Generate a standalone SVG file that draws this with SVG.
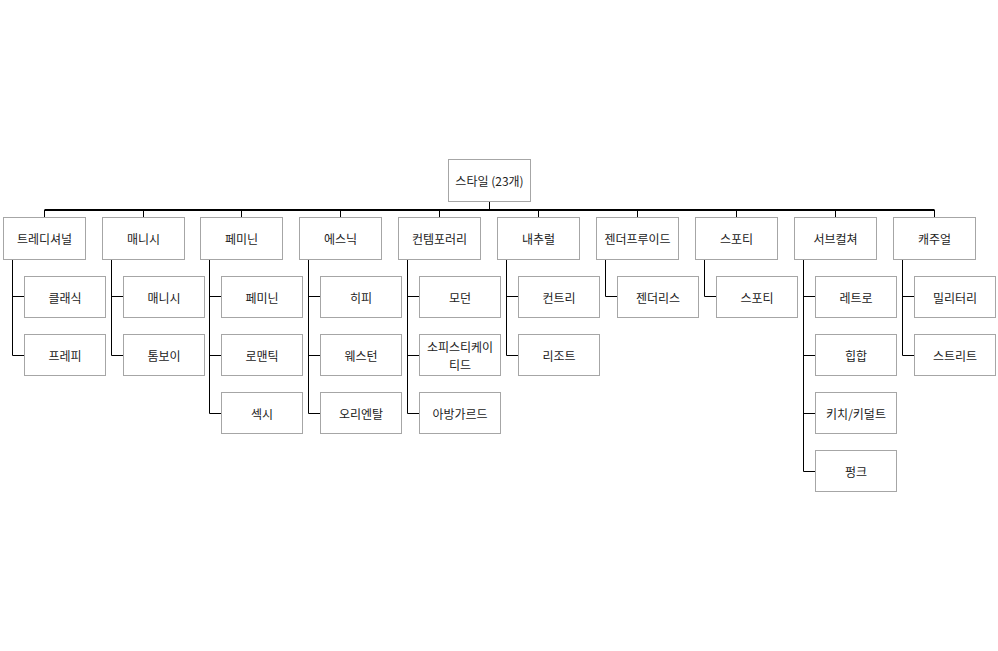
<svg xmlns="http://www.w3.org/2000/svg" width="998" height="651" viewBox="0 0 998 651">
<style>
.b{fill:#fff;stroke:#a6a6a6;stroke-width:1}
.t{font-family:"Noto Sans CJK KR","Noto Sans",sans-serif;font-size:12px;fill:#222;text-anchor:middle;dominant-baseline:central}
.c{fill:none;stroke:#000;stroke-width:1}
.bus{fill:none;stroke:#000;stroke-width:2}
</style>
<rect width="998" height="651" fill="#fff"/>
<g id="connectors">
<path class="bus" d="M44.5 210H934.5"/>
<path class="c" d="M489.5 201.5V210M44.5 210V217.5M143.5 210V217.5M241.5 210V217.5M340.5 210V217.5M439.5 210V217.5M538.5 210V217.5M637.5 210V217.5M736.5 210V217.5M835.5 210V217.5M934.5 210V217.5"/>
<path class="c" d="M12.5 259.5V355.5M12.5 296.5H24M12.5 355.5H24"/>
<path class="c" d="M111.5 259.5V355.5M111.5 296.5H123M111.5 355.5H123"/>
<path class="c" d="M209.5 259.5V413.5M209.5 296.5H221M209.5 355.5H221M209.5 413.5H221"/>
<path class="c" d="M308.5 259.5V413.5M308.5 296.5H320M308.5 355.5H320M308.5 413.5H320"/>
<path class="c" d="M407.5 259.5V413.5M407.5 296.5H419M407.5 355.5H419M407.5 413.5H419"/>
<path class="c" d="M506.5 259.5V355.5M506.5 296.5H518M506.5 355.5H518"/>
<path class="c" d="M605.5 259.5V296.5H617"/>
<path class="c" d="M704.5 259.5V296.5H716"/>
<path class="c" d="M803.5 259.5V471.5M803.5 296.5H815M803.5 355.5H815M803.5 413.5H815M803.5 471.5H815"/>
<path class="c" d="M902.5 259.5V355.5M902.5 296.5H914M902.5 355.5H914"/>
</g>
<g id="root"><rect class="b" x="448.5" y="159.5" width="82" height="42"/><text class="t" x="489.5" y="180.5">스타일 (23개)</text></g>
<g id="n1"><rect class="b" x="3.5" y="217.5" width="82" height="42"/><text class="t" x="44.5" y="238.5">트레디셔널</text></g>
<g id="n1a"><rect class="b" x="24.5" y="276.5" width="81" height="41"/><text class="t" x="65" y="297">클래식</text></g>
<g id="n1b"><rect class="b" x="24.5" y="334.5" width="81" height="41"/><text class="t" x="65" y="355">프레피</text></g>
<g id="n2"><rect class="b" x="102.5" y="217.5" width="82" height="42"/><text class="t" x="143.5" y="238.5">매니시</text></g>
<g id="n2a"><rect class="b" x="123.5" y="276.5" width="81" height="41"/><text class="t" x="164" y="297">매니시</text></g>
<g id="n2b"><rect class="b" x="123.5" y="334.5" width="81" height="41"/><text class="t" x="164" y="355">톰보이</text></g>
<g id="n3"><rect class="b" x="200.5" y="217.5" width="82" height="42"/><text class="t" x="241.5" y="238.5">페미닌</text></g>
<g id="n3a"><rect class="b" x="221.5" y="276.5" width="81" height="41"/><text class="t" x="262" y="297">페미닌</text></g>
<g id="n3b"><rect class="b" x="221.5" y="334.5" width="81" height="41"/><text class="t" x="262" y="355">로맨틱</text></g>
<g id="n3c"><rect class="b" x="221.5" y="392.5" width="81" height="41"/><text class="t" x="262" y="413">섹시</text></g>
<g id="n4"><rect class="b" x="299.5" y="217.5" width="82" height="42"/><text class="t" x="340.5" y="238.5">에스닉</text></g>
<g id="n4a"><rect class="b" x="320.5" y="276.5" width="81" height="41"/><text class="t" x="361" y="297">히피</text></g>
<g id="n4b"><rect class="b" x="320.5" y="334.5" width="81" height="41"/><text class="t" x="361" y="355">웨스턴</text></g>
<g id="n4c"><rect class="b" x="320.5" y="392.5" width="81" height="41"/><text class="t" x="361" y="413">오리엔탈</text></g>
<g id="n5"><rect class="b" x="398.5" y="217.5" width="82" height="42"/><text class="t" x="439.5" y="238.5">컨템포러리</text></g>
<g id="n5a"><rect class="b" x="419.5" y="276.5" width="81" height="41"/><text class="t" x="460" y="297">모던</text></g>
<g id="n5b"><rect class="b" x="419.5" y="334.5" width="81" height="41"/><text class="t" x="460" y="346">소피스티케이</text><text class="t" x="460" y="364">티드</text></g>
<g id="n5c"><rect class="b" x="419.5" y="392.5" width="81" height="41"/><text class="t" x="460" y="413">아방가르드</text></g>
<g id="n6"><rect class="b" x="497.5" y="217.5" width="82" height="42"/><text class="t" x="538.5" y="238.5">내추럴</text></g>
<g id="n6a"><rect class="b" x="518.5" y="276.5" width="81" height="41"/><text class="t" x="559" y="297">컨트리</text></g>
<g id="n6b"><rect class="b" x="518.5" y="334.5" width="81" height="41"/><text class="t" x="559" y="355">리조트</text></g>
<g id="n7"><rect class="b" x="596.5" y="217.5" width="82" height="42"/><text class="t" x="637.5" y="238.5">젠더프루이드</text></g>
<g id="n7a"><rect class="b" x="617.5" y="276.5" width="81" height="41"/><text class="t" x="658" y="297">젠더리스</text></g>
<g id="n8"><rect class="b" x="695.5" y="217.5" width="82" height="42"/><text class="t" x="736.5" y="238.5">스포티</text></g>
<g id="n8a"><rect class="b" x="716.5" y="276.5" width="81" height="41"/><text class="t" x="757" y="297">스포티</text></g>
<g id="n9"><rect class="b" x="794.5" y="217.5" width="82" height="42"/><text class="t" x="835.5" y="238.5">서브컬쳐</text></g>
<g id="n9a"><rect class="b" x="815.5" y="276.5" width="81" height="41"/><text class="t" x="856" y="297">레트로</text></g>
<g id="n9b"><rect class="b" x="815.5" y="334.5" width="81" height="41"/><text class="t" x="856" y="355">힙합</text></g>
<g id="n9c"><rect class="b" x="815.5" y="392.5" width="81" height="41"/><text class="t" x="856" y="413">키치/키덜트</text></g>
<g id="n9d"><rect class="b" x="815.5" y="450.5" width="81" height="41"/><text class="t" x="856" y="471">펑크</text></g>
<g id="n10"><rect class="b" x="893.5" y="217.5" width="82" height="42"/><text class="t" x="934.5" y="238.5">캐주얼</text></g>
<g id="n10a"><rect class="b" x="914.5" y="276.5" width="81" height="41"/><text class="t" x="955" y="297">밀리터리</text></g>
<g id="n10b"><rect class="b" x="914.5" y="334.5" width="81" height="41"/><text class="t" x="955" y="355">스트리트</text></g>
</svg>
